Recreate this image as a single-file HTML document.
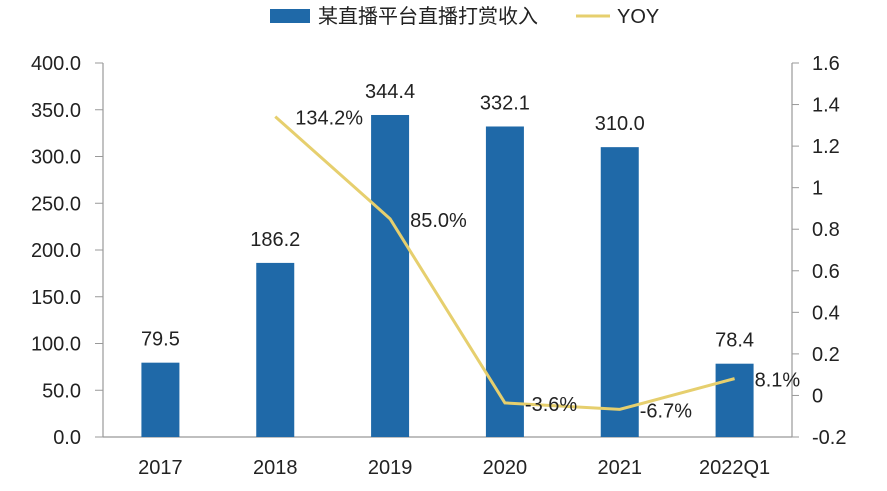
<!DOCTYPE html>
<html><head><meta charset="utf-8"><style>
body{margin:0;background:#fff;}
svg text{font-family:"Liberation Sans","Noto Sans CJK SC",sans-serif;fill:#222;}
</style></head><body>
<svg id="chart" width="887" height="486" xmlns="http://www.w3.org/2000/svg">
<g id="legend">
<rect x="270" y="9" width="40" height="14" fill="#1f69a8"/>
<text x="318" y="23" font-size="20">某直播平台直播打赏收入</text>
<line x1="576" y1="16" x2="610" y2="16" stroke="#e6cf6e" stroke-width="3"/>
<text x="617" y="23" font-size="20">YOY</text>
</g>
<g id="axes"></g><g id="bars"></g><g id="line"></g><g id="labels"></g>
</svg>
<script>
const categories=["2017","2018","2019","2020","2021","2022Q1"];
const revenue=[79.5,186.2,344.4,332.1,310.0,78.4];
const revenueLabels=["79.5","186.2","344.4","332.1","310.0","78.4"];
const yoy=[null,1.342,0.85,-0.036,-0.067,0.081];
const yoyLabels=["","134.2%","85.0%","-3.6%","-6.7%","8.1%"];
const leftTicks=[0,50,100,150,200,250,300,350,400];
const rightTicks=[-0.2,0,0.2,0.4,0.6,0.8,1,1.2,1.4,1.6];
const rightTickLabels=["-0.2","0","0.2","0.4","0.6","0.8","1","1.2","1.4","1.6"];

const NS="http://www.w3.org/2000/svg";
const X0=103,X1=792,Y0=437,Y1=63;
const step=(X1-X0)/categories.length;
const xc=i=>X0+step*(i+0.5);
const yL=v=>Y0-(v-0)/400*(Y0-Y1);
const yR=v=>Y0-(v+0.2)/1.8*(Y0-Y1);
function mk(tag,attrs,parent,text){const e=document.createElementNS(NS,tag);for(const k in attrs)e.setAttribute(k,attrs[k]);if(text!==undefined)e.textContent=text;document.getElementById(parent).appendChild(e);return e;}

let e;
e=mk('line',{x1:X0,y1:Y1,x2:X0,y2:Y0,stroke:'#999','stroke-width':1.2},'axes');


e=mk('line',{x1:X1,y1:Y1,x2:X1,y2:Y0,stroke:'#999','stroke-width':1.2},'axes');


e=mk('line',{x1:X0,y1:Y0,x2:X1,y2:Y0,stroke:'#999','stroke-width':1.2},'axes');


leftTicks.forEach(v=>{
  const y=yL(v);
  e=mk('line',{x1:X0-8,y1:y,x2:X0,y2:y,stroke:'#999'},'axes');
  
  
  e=mk('text',{x:X0-22,y:y+7,'text-anchor':'end','font-size':20},'axes',v.toFixed(1));
  
  
});
rightTicks.forEach((v,i)=>{
  const y=yR(v);
  e=mk('line',{x1:X1,y1:y,x2:X1+7,y2:y,stroke:'#999'},'axes');
  
  
  e=mk('text',{x:X1+20,y:y+7,'font-size':20},'axes',rightTickLabels[i]);
  
  
});
categories.forEach((c,i)=>{
  e=mk('text',{x:xc(i),y:474,'text-anchor':'middle','font-size':20},'axes',c);
  
  
  const bw=38,y=yL(revenue[i]);
  e=mk('rect',{x:xc(i)-bw/2,y:y,width:bw,height:Y0-y,fill:'#1f69a8'},'bars');
  
  
  e=mk('text',{x:xc(i),y:y-17,'text-anchor':'middle','font-size':20},'labels',revenueLabels[i]);
  
  
});
const pts=[];
yoy.forEach((v,i)=>{if(v!==null)pts.push([xc(i),yR(v),i]);});
e=mk('polyline',{points:pts.map(p=>p[0]+','+p[1]).join(' '),fill:'none',stroke:'#e6cf6e','stroke-width':3},'line');


pts.forEach(p=>{
  e=mk('text',{x:p[0]+20,y:p[1]+8,'font-size':20},'labels',yoyLabels[p[2]]);
  
  
});
</script>
</body></html>
